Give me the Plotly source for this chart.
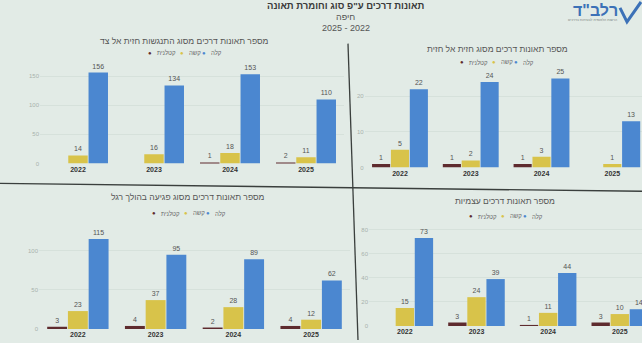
import plotly.graph_objects as go

W, H = 642, 343

years = ['2022', '2023', '2024', '2025']
series_names = ['קטלנית', 'קשה', 'קלה']
series_colors = ['#5e2b2e', '#d8c34a', '#4b87d0']

# top-left: side collision
side_fatal = [0, 0, 1, 2]
side_severe = [14, 16, 18, 11]
side_light = [156, 134, 153, 110]
# top-right: head-on
head_fatal = [1, 1, 1, 0]
head_severe = [5, 2, 3, 1]
head_light = [22, 24, 25, 13]
# bottom-left: pedestrian
ped_fatal = [3, 4, 2, 4]
ped_severe = [23, 37, 28, 12]
ped_light = [115, 95, 89, 62]
# bottom-right: self accidents
self_fatal = [0, 3, 1, 3]
self_severe = [15, 24, 11, 10]
self_light = [73, 39, 44, 14]

titles = [
    'מספר תאונות דרכים מסוג התנגשות חזית אל צד',
    'מספר תאונות דרכים מסוג חזית אל חזית',
    'מספר תאונות דרכים מסוג פגיעה בהולך רגל',
    'מספר תאונות דרכים עצמיות',
]
main_title = 'תאונות דרכים ע"פ סוג וחומרת תאונה'
city = 'חיפה'
period = '2025 - 2022'


def px(x):
    return x / W


def py(y):
    return 1 - y / H


FONT = 'Liberation Sans, DejaVu Sans, Arial, sans-serif'

panels = [
    dict(data=[side_fatal, side_severe, side_light], xdom=(40, 344), xr=(-0.5, 3.5),
         ydom=(165, 62), ymax=175, dtick=50, title_xy=(185, 41), leg_xy=(186, 53)),
    dict(data=[head_fatal, head_severe, head_light], xdom=(364.6, 642), xr=(-0.5, 3.42),
         ydom=(169, 72), ymax=27, dtick=10, title_xy=(497, 49), leg_xy=(498, 63)),
    dict(data=[ped_fatal, ped_severe, ped_light], xdom=(39, 350), xr=(-0.5, 3.5),
         ydom=(332, 230), ymax=129, dtick=50, title_xy=(188, 199), leg_xy=(190, 215)),
    dict(data=[self_fatal, self_severe, self_light], xdom=(369, 642), xr=(-0.5, 3.31),
         ydom=(329, 228), ymax=83, dtick=20, title_xy=(505, 203), leg_xy=(507, 218)),
]

fig = go.Figure()
layout = dict(
    width=W, height=H, margin=dict(l=0, r=0, t=0, b=0),
    paper_bgcolor='#e2ebe6', plot_bgcolor='rgba(0,0,0,0)',
    barmode='group', bargap=0.2, bargroupgap=0.04,
    showlegend=False, font=dict(family=FONT),
)
annotations = []
shapes = []

for i, p in enumerate(panels):
    s = '' if i == 0 else str(i + 1)
    for j, name in enumerate(series_names):
        vals = p['data'][j]
        fig.add_trace(go.Bar(
            x=years, y=vals, name=name,
            marker=dict(color=series_colors[j], line=dict(width=0)),
            text=[str(v) if v else '' for v in vals],
            textposition='outside', cliponaxis=False,
            textfont=dict(size=7, color='#555555', family=FONT),
            xaxis='x' + s, yaxis='y' + s, showlegend=False,
        ))
    layout['xaxis' + s] = dict(
        domain=[px(p['xdom'][0]), px(p['xdom'][1])], range=list(p['xr']),
        type='category', anchor='y' + s, showgrid=False, zeroline=False, showline=False,
        tickvals=years, ticktext=['<b>' + y + '</b>' for y in years],
        tickfont=dict(size=7, color='#333333', family=FONT), ticklen=0,
    )
    layout['yaxis' + s] = dict(
        domain=[py(p['ydom'][0]), py(p['ydom'][1])], range=[0, p['ymax']],
        dtick=p['dtick'], anchor='x' + s, showgrid=True,
        gridcolor='rgba(150,165,158,0.15)', gridwidth=1, zeroline=False, showline=False,
        tickfont=dict(size=6, color='#a8b2ad', family=FONT),
    )
    tx, ty = p['title_xy']
    annotations.append(dict(x=px(tx), y=py(ty), xref='paper', yref='paper',
                            text=titles[i], showarrow=False, xanchor='center', yanchor='middle',
                            font=dict(size=8.5, color='#555555', family=FONT)))
    lx, ly = p['leg_xy']
    offsets = [(-36, -31), (-4, 1), (18, 23)]
    for j, name in enumerate(series_names):
        do, to = offsets[j]
        annotations.append(dict(x=px(lx + do), y=py(ly), xref='paper', yref='paper',
                                text='●', showarrow=False, xanchor='center', yanchor='middle',
                                font=dict(size=6, color=series_colors[j], family=FONT)))
        annotations.append(dict(x=px(lx + to), y=py(ly), xref='paper', yref='paper',
                                text=name, showarrow=False, xanchor='left', yanchor='middle',
                                font=dict(size=6, color='#666666', family=FONT)))

# header
annotations += [
    dict(x=px(346), y=py(6), xref='paper', yref='paper', text='<b>' + main_title + '</b>',
         showarrow=False, xanchor='center', yanchor='middle',
         font=dict(size=9.5, color='#3a3a3a', family=FONT)),
    dict(x=px(346), y=py(17), xref='paper', yref='paper', text=city,
         showarrow=False, xanchor='center', yanchor='middle',
         font=dict(size=9, color='#555555', family=FONT)),
    dict(x=px(346), y=py(28), xref='paper', yref='paper', text=period,
         showarrow=False, xanchor='center', yanchor='middle',
         font=dict(size=9, color='#555555', family=FONT)),
    dict(x=px(620), y=py(11), xref='paper', yref='paper', text='<b>רלב"ד</b>',
         showarrow=False, xanchor='right', yanchor='middle',
         font=dict(size=16, color='#3c71b7', family=FONT)),
    dict(x=px(592), y=py(20), xref='paper', yref='paper', text='הרשות הלאומית לבטיחות בדרכים',
         showarrow=False, xanchor='center', yanchor='middle',
         font=dict(size=3.5, color='#7a8580', family=FONT)),
]

# divider lines and logo tick
shapes += [
    dict(type='line', xref='paper', yref='paper', x0=px(348), y0=py(44), x1=px(358), y1=py(343),
         line=dict(color='#3a3f3d', width=1.3)),
    dict(type='line', xref='paper', yref='paper', x0=px(0), y0=py(185), x1=px(642), y1=py(193),
         line=dict(color='#3a3f3d', width=1.4)),
    dict(type='path', xref='paper', yref='paper',
         path=f'M {px(620)},{py(8)} L {px(627)},{py(22)} L {px(641)},{py(2)}',
         line=dict(color='#3c71b7', width=3)),
]

layout['annotations'] = annotations
layout['shapes'] = shapes
fig.update_layout(**layout)
fig.write_html('out.html')
